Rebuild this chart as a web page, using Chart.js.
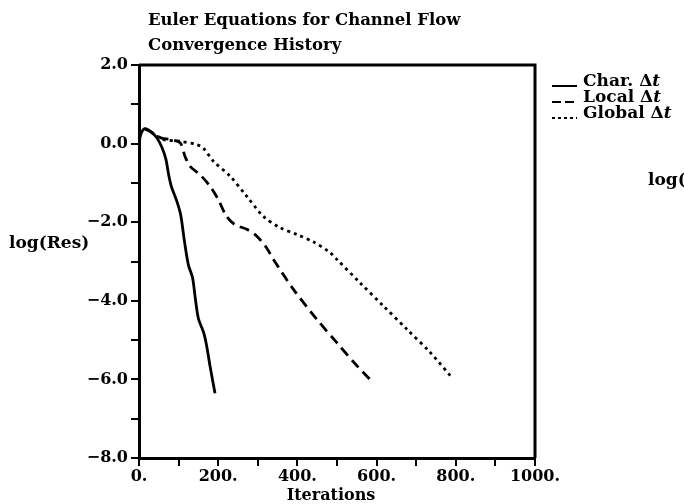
<!DOCTYPE html>
<html>
<head>
<meta charset="utf-8">
<script src="https://cdn.jsdelivr.net/npm/chart.js@4/dist/chart.umd.min.js"></script>
<style>
  html, body { margin: 0; padding: 0; background: #fff; }
  #wrap { width: 684px; height: 504px; }
</style>
</head>
<body>
<div id="wrap"><canvas id="myChart"></canvas></div>
<script>
// convergence histories, [iteration, log(residual)]
var charIter  = [0, 5, 15, 30, 45, 58, 68, 75, 82, 95, 105, 115, 125, 135, 143, 150, 163, 170, 180, 192];
var charRes   = [0.0, 0.25, 0.38, 0.3, 0.15, -0.1, -0.4, -0.8, -1.1, -1.45, -1.8, -2.5, -3.1, -3.4, -4.0, -4.45, -4.8, -5.1, -5.7, -6.35];

var localIter = [15, 30, 45, 57, 80, 104, 116, 129, 154, 179, 200, 221, 242, 272, 297, 322, 339, 390, 449, 499, 550, 583];
var localRes  = [0.38, 0.3, 0.2, 0.14, 0.1, 0.02, -0.32, -0.58, -0.79, -1.08, -1.42, -1.85, -2.06, -2.18, -2.35, -2.65, -2.94, -3.71, -4.47, -5.06, -5.65, -6.0];

var globalIter = [15, 30, 45, 61, 104, 146, 162, 188, 230, 272, 314, 356, 398, 440, 482, 499, 558, 617, 676, 735, 790];
var globalRes  = [0.38, 0.3, 0.2, 0.1, 0.06, -0.03, -0.11, -0.45, -0.83, -1.34, -1.85, -2.14, -2.31, -2.5, -2.77, -2.94, -3.54, -4.13, -4.72, -5.31, -5.95];

var seriesNames = ["Char.", "Local", "Global"];
var titleLines = ["Euler Equations for Channel Flow", "Convergence History"];

function pts(xs, ys) {
  var out = [];
  for (var i = 0; i < xs.length; i++) out.push({x: xs[i], y: ys[i]});
  return out;
}

var serif = "'DejaVu Serif', 'Liberation Serif', serif";

// texts and frame that chart.js does not place the way the old plot did
var extras = {
  id: 'extras',
  afterDraw: function(chart) {
    var c = chart.ctx, a = chart.chartArea;
    c.save();
    c.strokeStyle = '#000';
    c.lineWidth = 3;
    c.beginPath();
    c.moveTo(a.left, a.top); c.lineTo(a.right, a.top); c.lineTo(a.right, a.bottom);
    c.stroke();

    c.fillStyle = '#000';
    c.textBaseline = 'alphabetic';
    c.textAlign = 'left';
    c.font = 'bold 16.5px ' + serif;
    c.fillText(titleLines[0], 148, 25);
    c.fillText(titleLines[1], 148, 50);

    c.font = 'bold 17px ' + serif;
    c.fillText('log(Res)', 9, 248);
    c.fillText('log(', 648, 185);

    c.font = 'bold 16px ' + serif;
    c.textAlign = 'center';
    c.fillText('Iterations', 331, 500);

    // legend
    var dashes = [[], [9, 4], [3, 3]];
    c.textAlign = 'left';
    for (var i = 0; i < seriesNames.length; i++) {
      var y = 86 + i * 16;
      c.setLineDash(dashes[i]);
      c.lineWidth = 2;
      c.beginPath();
      c.moveTo(552, y); c.lineTo(577, y);
      c.stroke();
      c.setLineDash([]);
      c.font = 'bold 17px ' + serif;
      var s = seriesNames[i] + ' \u0394';
      c.fillText(s, 583, y);
      var w = c.measureText(s).width;
      c.font = 'italic bold 17px ' + serif;
      c.fillText('t', 583 + w, y);
    }
    c.restore();
  }
};

var ctx = document.getElementById('myChart');
var myChart = new Chart(ctx, {
  type: 'line',
  data: {
    datasets: [
      { label: seriesNames[0], data: pts(charIter, charRes), borderColor: '#000', borderWidth: 2.8, pointRadius: 0, tension: 0.3 },
      { label: seriesNames[1], data: pts(localIter, localRes), borderColor: '#000', borderWidth: 2.8, borderDash: [10, 6], pointRadius: 0, tension: 0.3 },
      { label: seriesNames[2], data: pts(globalIter, globalRes), borderColor: '#000', borderWidth: 2.8, borderDash: [3, 4], pointRadius: 0, tension: 0.3 }
    ]
  },
  options: {
    responsive: true,
    maintainAspectRatio: false,
    animation: false,
    layout: { padding: { top: 65, right: 149, left: 0, bottom: 0 } },
    plugins: { legend: { display: false }, title: { display: false }, tooltip: { enabled: false } },
    scales: {
      x: {
        type: 'linear', min: 0, max: 1000,
        border: { display: true, color: '#000', width: 3 },
        grid: { drawOnChartArea: false, color: '#000', lineWidth: 2, tickLength: 8 },
        ticks: {
          stepSize: 100, color: '#000', padding: 1, maxRotation: 0, autoSkip: false,
          font: { family: serif, size: 16, weight: 'bold' },
          callback: function(v) { return v % 200 === 0 ? v + '.' : ''; }
        },
        afterFit: function(s) { s.height = 46; }
      },
      y: {
        type: 'linear', min: -8, max: 2,
        border: { display: true, color: '#000', width: 3 },
        grid: { drawOnChartArea: false, color: '#000', lineWidth: 2, tickLength: 8 },
        ticks: {
          stepSize: 1, color: '#000', padding: 3, autoSkip: false,
          font: { family: serif, size: 16, weight: 'bold' },
          callback: function(v) {
            if (v % 2 !== 0) return '';
            return (v < 0 ? '\u2212' : '') + Math.abs(v).toFixed(1);
          }
        },
        afterFit: function(s) { s.width = 139; }
      }
    }
  },
  plugins: [extras]
});
</script>
</body>
</html>
